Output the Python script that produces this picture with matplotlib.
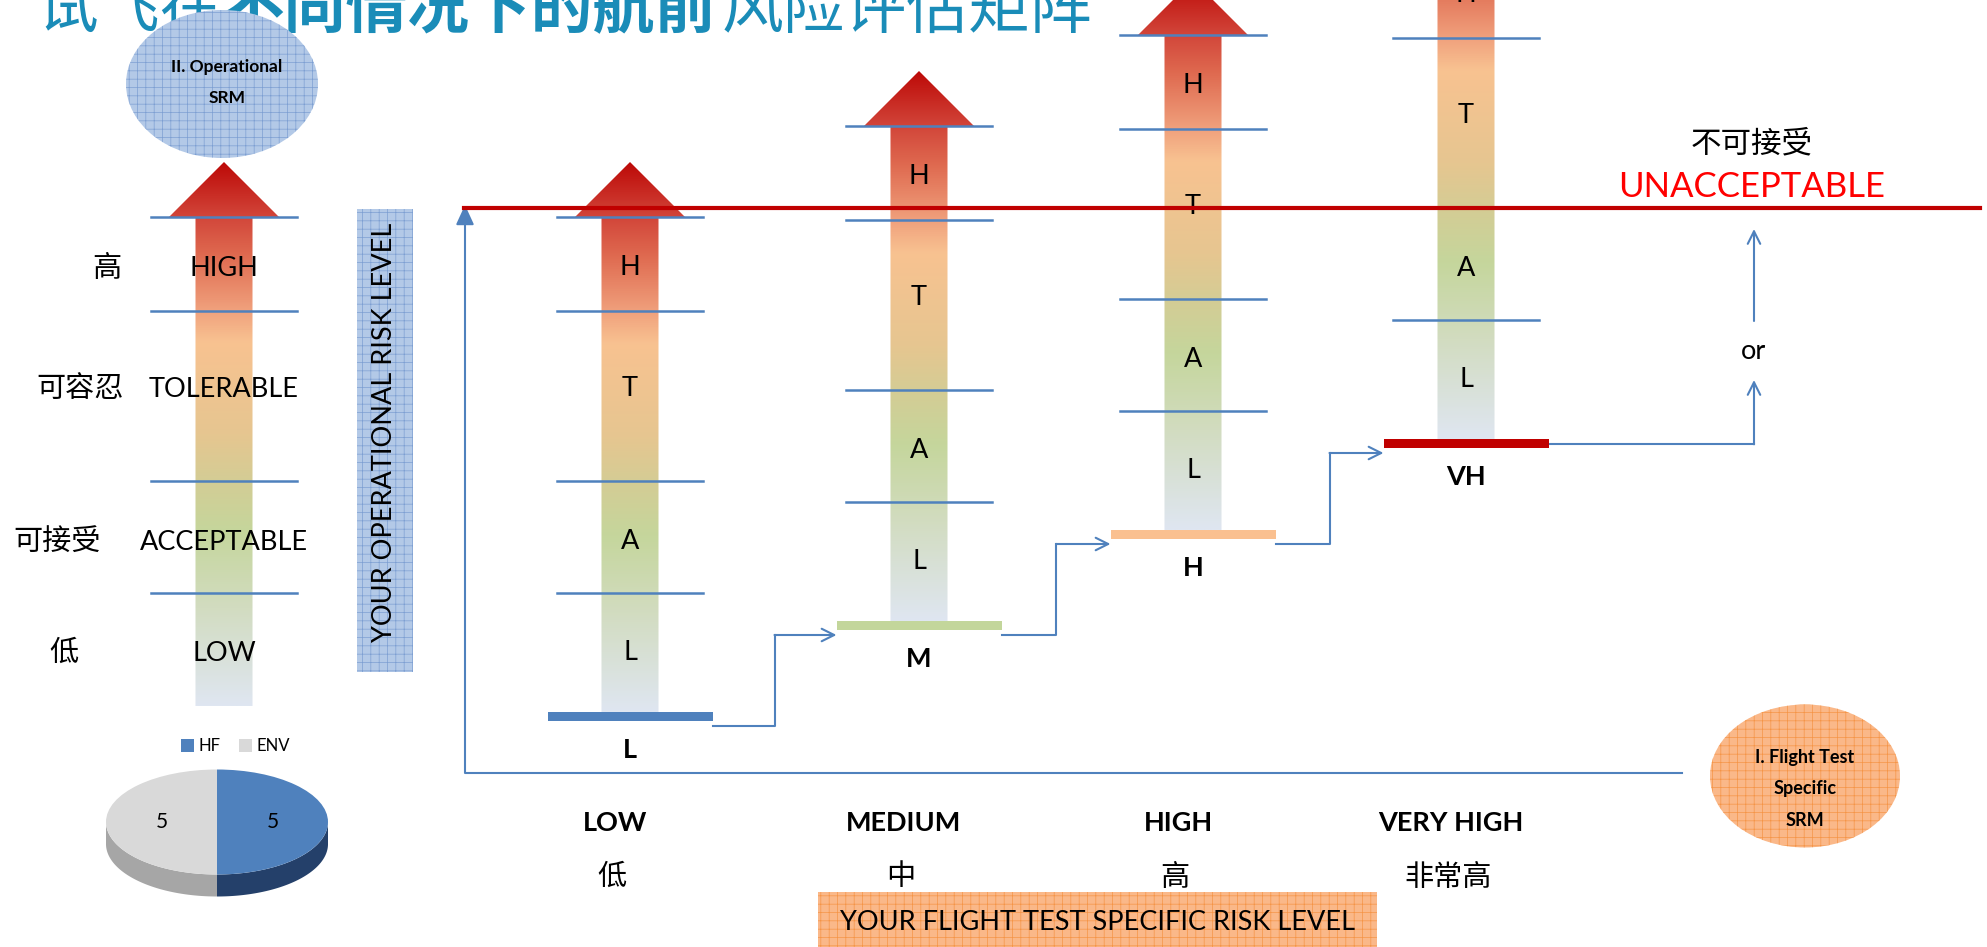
import numpy as np
import matplotlib
matplotlib.use("Agg")
import matplotlib.pyplot as plt
from matplotlib.patches import Polygon, Rectangle, Ellipse, Wedge
from matplotlib.colors import LinearSegmentedColormap
from matplotlib.transforms import Affine2D

# data
title_parts = ["试飞在", "不同情况下的航前", "风险评估矩阵"]
level_names_en = ["LOW", "MEDIUM", "HIGH", "VERY HIGH"]
level_names_zh = ["低", "中", "高", "非常高"]
level_abbr = ["L", "M", "H", "VH"]
level_index = [0, 1, 2, 3]
ladder_letters = ["L", "A", "T", "H"]          # bottom -> top
op_levels_en = ["LOW", "ACCEPTABLE", "TOLERABLE", "HIGH"]
op_levels_zh = ["低", "可接受", "可容忍", "高"]
pie_labels = ["HF", "ENV"]
pie_values = [5, 5]

plt.rcParams['font.family'] = ['Lato', 'Noto Sans CJK SC', 'DejaVu Sans']
plt.rcParams['hatch.linewidth'] = 0.5

W, H = 1987, 947
fig = plt.figure(figsize=(W / 100, H / 100), dpi=100)
ax = fig.add_axes([0, 0, 1, 1])
ax.axis('off')

BLUE = '#4f81bd'
RED = '#c00000'
title_color = '#1a8cb8'

# layout (pixels)
step = 91                       # vertical shift per risk level
col_x = [630, 919, 1193, 1466]
bar_w, bar_h = 165, 9
bar_colors = ['#4f81bd', '#c3d69b', '#fac090', '#c00000']
apex_y, head_y, bottom_y = 162, 217, 712
line_y = [593, 481, 311, 217]
letter_y = [650, 539, 386, 265]
shaft_w, head_w = 57, 110

arrow_cmap = LinearSegmentedColormap.from_list('risk', [
    (0.0, '#bd0a08'), (0.10, '#d2463a'), (0.17, '#df6a50'), (0.27, '#f0a07c'),
    (0.33, '#f8c291'), (0.50, '#e6c690'), (0.59, '#d3cd95'), (0.68, '#c5d69c'),
    (0.82, '#d2dcc0'), (1.0, '#dfe6f1')])

# title (partly cut at the top)
tx = [37, 223, 722]
tw = ['normal', 'bold', 'normal']
for part, x, w in zip(title_parts, tx, tw):
    ax.text(x, 28, part, fontsize=44.5, color=title_color, fontweight=w,
            family=['Noto Sans CJK SC'], ha='left', va='baseline', zorder=1)


def grad_arrow(cx, dy, bottom):
    verts = [(cx, apex_y + dy), (cx + head_w / 2, head_y + dy),
             (cx + shaft_w / 2, head_y + dy), (cx + shaft_w / 2, bottom),
             (cx - shaft_w / 2, bottom), (cx - shaft_w / 2, head_y + dy),
             (cx - head_w / 2, head_y + dy)]
    poly = Polygon(verts, closed=True, facecolor='none', edgecolor='none')
    ax.add_patch(poly)
    grad = np.linspace(0, 1, 256).reshape(-1, 1)
    im = ax.imshow(grad, cmap=arrow_cmap, aspect='auto', zorder=2,
                   extent=(cx - head_w / 2, cx + head_w / 2, bottom, apex_y + dy))
    im.set_clip_path(poly)
    for ly in line_y:
        ax.plot([cx - 73, cx + 73], [ly + dy, ly + dy], color=BLUE, lw=1.8, zorder=3)


def hatched(patch_cls, *args, face, hatch_col, **kw):
    ax.add_patch(patch_cls(*args, facecolor=face, edgecolor='none', zorder=4, **kw))
    ax.add_patch(patch_cls(*args, facecolor='none', edgecolor=hatch_col,
                           hatch='++', lw=0, zorder=4, **kw))


# left operational column
grad_arrow(224, 0, 706)
zh_x = [64, 57, 80, 107]
for en, zh, y, zx in zip(op_levels_en, op_levels_zh, letter_y, zh_x):
    ax.text(224, y + 3, en, fontsize=19.5, ha='center', va='center', zorder=5)
    ax.text(zx, y + 3, zh, fontsize=21, ha='center', va='center', zorder=5)

hatched(Ellipse, (222, 84), 192, 148, face='#b3c9e7', hatch_col='#7d9fd2')
ax.text(227, 67, "II. Operational", fontsize=12.5, fontweight='bold', ha='center', va='center', zorder=5)
ax.text(227, 98, "SRM", fontsize=12.5, fontweight='bold', ha='center', va='center', zorder=5)

hatched(Rectangle, (357, 209), 56, 463, face='#b3c9e7', hatch_col='#7d9fd2')
ax.text(385, 432, "YOUR OPERATIONAL RISK LEVEL", fontsize=19.5, rotation=90,
        ha='center', va='center', zorder=5)

# flight-test columns
bar_top = []
for k, abbr in zip(level_index, level_abbr):
    dy = -step * k
    cx = col_x[k]
    bt = bottom_y + dy
    bar_top.append(bt)
    grad_arrow(cx, dy, bt)
    for let, ly in zip(ladder_letters, letter_y):
        ax.text(cx, ly + dy + 2, let, fontsize=19.5, ha='center', va='center', zorder=5)
    ax.add_patch(Rectangle((cx - bar_w / 2, bt), bar_w, bar_h, facecolor=bar_colors[k],
                           edgecolor='none', zorder=4))
    ax.text(cx, 750 + dy, abbr, fontsize=19.5, fontweight='bold', ha='center', va='center')
    ax.text(cx - 15, 823, level_names_en[k], fontsize=19.5, fontweight='bold', ha='center', va='center')
    ax.text(cx - 18, 877, level_names_zh[k], fontsize=21, ha='center', va='center')

# step connectors
arr = dict(arrowstyle='->,head_length=0.9,head_width=0.45', color=BLUE, lw=1.5,
           shrinkA=0, shrinkB=0)
for k in range(len(level_index) - 1):
    y0, y1 = bar_top[k] + 14, bar_top[k + 1] + 14
    x0 = col_x[k] + bar_w / 2
    x1 = col_x[k + 1] - bar_w / 2
    xm = (x0 + x1) / 2
    ax.plot([x0, xm, xm], [y0, y0, y1], color=BLUE, lw=1.5, zorder=3)
    ax.annotate('', xy=(x1, y1), xytext=(xm, y1), arrowprops=arr, zorder=3)

vh_y = bar_top[-1] + bar_h / 2
ax.plot([col_x[-1] + bar_w / 2, 1754], [vh_y, vh_y], color=BLUE, lw=1.5, zorder=3)
ax.annotate('', xy=(1754, 380), xytext=(1754, vh_y + 0.8), arrowprops=arr)
ax.annotate('', xy=(1754, 229), xytext=(1754, 321), arrowprops=arr)
ax.text(1754, 351, "or", fontsize=19.5, ha='center', va='center')
ax.text(1752, 143, "不可接受", fontsize=22, ha='center', va='center')
ax.text(1752, 187, "UNACCEPTABLE", fontsize=25, color='#ff0000', ha='center', va='center')

# axes of the matrix
ax.plot([465, 465, 1682], [222, 773, 773], color=BLUE, lw=1.5, zorder=3)
ax.annotate('', xy=(465, 205), xytext=(465, 224),
            arrowprops=dict(arrowstyle='-|>,head_length=1.2,head_width=0.55', color=BLUE,
                            lw=1.5, shrinkA=0, shrinkB=0), zorder=3)
ax.plot([464, 1980], [208, 208], color=RED, lw=3, zorder=6)

hatched(Ellipse, (1805, 776), 190, 143, face='#fab889', hatch_col='#f59547')
for txt, y in zip(["I. Flight Test", "Specific", "SRM"], [757, 788, 820]):
    ax.text(1805, y, txt, fontsize=13, fontweight='bold', ha='center', va='center', zorder=5)

hatched(Rectangle, (818, 892), 559, 60, face='#fab889', hatch_col='#f59547')
ax.text(1097, 922, "YOUR FLIGHT TEST SPECIFIC RISK LEVEL", fontsize=19.5,
        ha='center', va='center', zorder=5)

# 3d pie
pcx, pcy, rx, ry, depth = 217, 822, 111, 52.5, 22
pie_colors = ['#4f81bd', '#d9d9d9']
side_colors = ['#24406a', '#a6a6a6']
tr = Affine2D().scale(rx, -ry).translate(pcx, pcy) + ax.transData
tr_low = Affine2D().scale(rx, -ry).translate(pcx, pcy + depth) + ax.transData
total = float(sum(pie_values))
start = 90.0
for v, c, sc, lab in zip(pie_values, pie_colors, side_colors, pie_labels):
    end = start - 360.0 * v / total
    t = np.radians(np.linspace(end, start, 300))
    t = t[np.sin(t) <= 0]
    if len(t):
        top = np.column_stack([np.cos(t), np.sin(t)])
        pts = [tr.transform(p) for p in top] + [tr_low.transform(p) for p in top[::-1]]
        pts = ax.transData.inverted().transform(np.array(pts))
        ax.add_patch(Polygon(pts, closed=True, facecolor=sc, edgecolor='none', zorder=4))
    ax.add_patch(Wedge((0, 0), 1, end, start, facecolor=c, edgecolor='none',
                       transform=tr, zorder=5))
    mid = np.radians((start + end) / 2)
    ax.text(pcx + 0.5 * rx * np.cos(mid), pcy - 0.5 * ry * np.sin(mid), f"{v:g}",
            fontsize=15, ha='center', va='center', zorder=6)
    start = end

lx = 181
for lab, c in zip(pie_labels, pie_colors):
    ax.add_patch(Rectangle((lx, 739), 13, 13, facecolor=c, edgecolor='none'))
    ax.text(lx + 17, 746, lab, fontsize=12, ha='left', va='center')
    lx += 58

ax.set_xlim(0, W)
ax.set_ylim(H, 0)
fig.savefig("out.png", dpi=100)
